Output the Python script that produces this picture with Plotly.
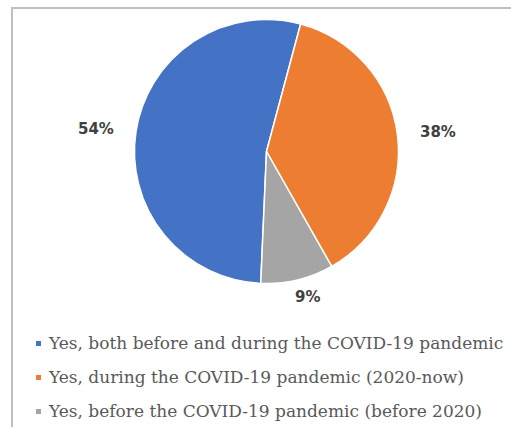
import math
import plotly.graph_objects as go

# Survey answers and their shares (%)
categories = [
    "Yes, both before and during the COVID-19 pandemic",
    "Yes, during the COVID-19 pandemic (2020-now)",
    "Yes, before the COVID-19 pandemic (before 2020)",
]
shares = [54, 38, 9]
slice_colors = ["#4472C4", "#ED7D31", "#A5A5A5"]

W, H = 511, 427
CX, CY, R = 266.5, 151.5, 132      # pie centre and radius (px)
START_ANGLE = 182.5                # first slice starts here, clockwise from 12 o'clock
LABEL_RX, LABEL_RY = 173, 150      # distance of the % labels from the centre


def px(x):
    return x / W


def py(y):
    return 1 - y / H


fig = go.Figure(
    go.Pie(
        labels=categories,
        values=shares,
        sort=False,
        direction="clockwise",
        rotation=START_ANGLE,
        marker=dict(colors=slice_colors, line=dict(color="white", width=1.5)),
        textinfo="none",
        hoverinfo="label+value",
        showlegend=False,
        domain=dict(x=[px(CX - R), px(CX + R)], y=[py(CY + R), py(CY - R)]),
    )
)

annotations = []
shapes = []

# percentage labels placed outside each slice at its mid-angle
total = sum(shares)
cum = 0
for v in shares:
    mid = math.radians(START_ANGLE + (cum + v / 2) / total * 360)
    cum += v
    lx = CX + LABEL_RX * math.sin(mid)
    ly = CY - LABEL_RY * math.cos(mid)
    annotations.append(dict(
        x=px(lx), y=py(ly), xref="paper", yref="paper",
        text=f"{v}%", showarrow=False, xanchor="center", yanchor="middle",
        font=dict(family="DejaVu Sans", size=15, color="#404040", weight="bold"),
    ))

# legend: small colour squares with the category names
LEG_X, LEG_Y0, LEG_DY = 38.5, 343.5, 34
for i, (name, col) in enumerate(zip(categories, slice_colors)):
    yc = LEG_Y0 + i * LEG_DY
    shapes.append(dict(
        type="rect", xref="paper", yref="paper",
        x0=px(LEG_X - 2.5), x1=px(LEG_X + 2.5), y0=py(yc + 2.5), y1=py(yc - 2.5),
        fillcolor=col, line=dict(width=0),
    ))
    annotations.append(dict(
        x=px(46), y=py(yc - 1), xref="paper", yref="paper",
        text=name, showarrow=False, xanchor="left", yanchor="middle",
        font=dict(family="DejaVu Serif", size=17, color="#595959"),
    ))

# chart area frame
shapes.append(dict(
    type="rect", xref="paper", yref="paper", layer="below",
    x0=px(12), y0=py(8), x1=px(W + 20), y1=py(H + 20),
    line=dict(color="#BFBFBF", width=2), fillcolor="rgba(0,0,0,0)",
))

fig.update_layout(
    width=W, height=H, autosize=False,
    margin=dict(l=0, r=0, t=0, b=0),
    paper_bgcolor="white", plot_bgcolor="white",
    annotations=annotations, shapes=shapes,
)

fig.write_html("out.html")
